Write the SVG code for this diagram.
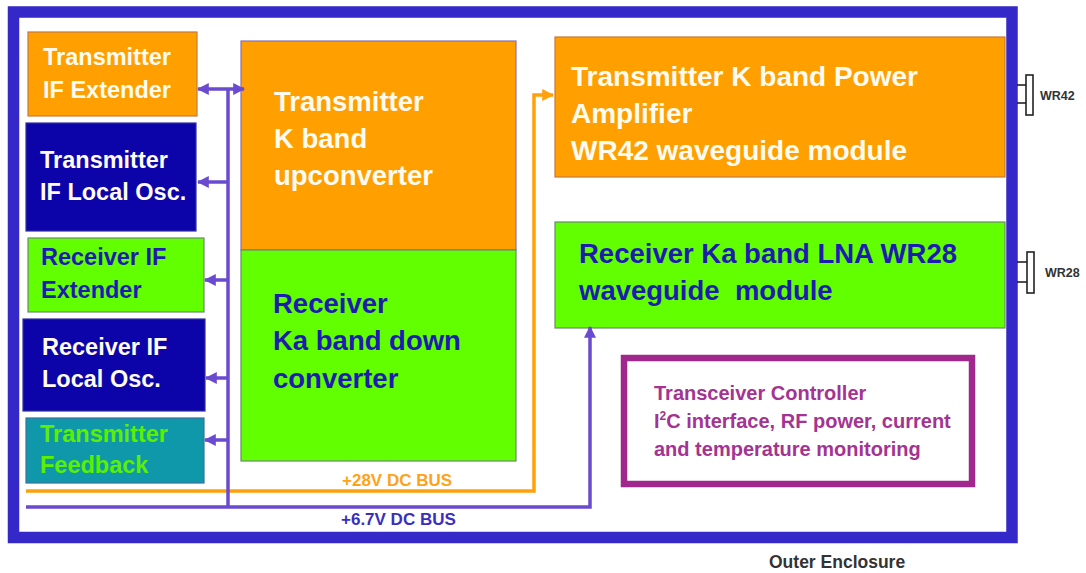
<svg xmlns="http://www.w3.org/2000/svg" width="1086" height="573" viewBox="0 0 1086 573">
<style>
text{font-family:"Liberation Sans",Arial,sans-serif;font-weight:bold}
.or{fill:#ffa000;stroke:#c8783a;stroke-width:1.2}
.gr{fill:#62ff00;stroke:#6a8a6a;stroke-width:1.2}
.db{fill:#0c04a8;stroke:#3030a0;stroke-width:1.2}
.tl{fill:#0f98aa;stroke:#3a6fa0;stroke-width:1.2}
.tw{fill:#fffbf0}
.tb{fill:#1c1cb0}
.tg{fill:#5cf000}
.s23{font-size:23.5px}
.s27{font-size:27.5px}
.ct{font-size:20px;fill:#a43392}
.bus{fill:none;stroke:#6a4bd0;stroke-width:3.5}
.obus{fill:none;stroke:#ffa10a;stroke-width:3.5}
.wr{fill:#fff;stroke:#222;stroke-width:1.6}
.stub{stroke:#222;stroke-width:1.6}
</style>
<defs>
<marker id="ap" viewBox="0 0 10 10" refX="9" refY="5" markerUnits="userSpaceOnUse" markerWidth="12" markerHeight="13" orient="auto-start-reverse"><path d="M0,0 L10,5 L0,10 z" fill="#6a4bd0"/></marker>
<marker id="ao" viewBox="0 0 10 10" refX="9" refY="5" markerUnits="userSpaceOnUse" markerWidth="12" markerHeight="13" orient="auto"><path d="M0,0 L10,5 L0,10 z" fill="#ffa10a"/></marker>
</defs>
<rect width="1086" height="573" fill="#fff"/>
<g id="enclosure">
<rect x="13.5" y="12" width="998.5" height="525.5" fill="none" stroke="#3429c8" stroke-width="11.5"/>
<text x="769" y="568" font-size="17.5" fill="#333">Outer Enclosure</text>
</g>
<g id="tx-if-extender">
<rect class="or" x="28" y="32" width="169" height="84"/>
<text class="tw s23" x="43" y="65">Transmitter</text>
<text class="tw s23" x="43" y="98">IF Extender</text>
</g>
<g id="tx-if-lo">
<rect class="db" x="26" y="123" width="170" height="108"/>
<text class="tw s23" x="40" y="168">Transmitter</text>
<text class="tw s23" x="40" y="200">IF Local Osc.</text>
</g>
<g id="rx-if-extender">
<rect class="gr" x="28" y="238" width="176" height="74"/>
<text class="tb s23" x="41" y="265">Receiver IF</text>
<text class="tb s23" x="41" y="298">Extender</text>
</g>
<g id="rx-if-lo">
<rect class="db" x="23" y="319" width="182" height="92"/>
<text class="tw s23" x="42" y="355">Receiver IF</text>
<text class="tw s23" x="42" y="387">Local Osc.</text>
</g>
<g id="tx-feedback">
<rect class="tl" x="26" y="418" width="178" height="65"/>
<text class="tg s23" x="40" y="442">Transmitter</text>
<text class="tg s23" x="40" y="473">Feedback</text>
</g>
<g id="tx-upconverter">
<rect class="or" x="241" y="41" width="275" height="209" style="stroke:#8a70b8"/>
<text class="tw s27" x="274" y="111">Transmitter</text>
<text class="tw s27" x="274" y="148">K band</text>
<text class="tw s27" x="274" y="185">upconverter</text>
</g>
<g id="rx-downconverter">
<rect class="gr" x="241" y="250" width="275" height="211"/>
<text class="tb s27" x="273" y="313">Receiver</text>
<text class="tb s27" x="273" y="350">Ka band down</text>
<text class="tb s27" x="273" y="388">converter</text>
</g>
<g id="tx-pa">
<rect class="or" x="555" y="37" width="450" height="140"/>
<text class="tw" font-size="28" x="571" y="86">Transmitter K band Power</text>
<text class="tw" font-size="28" x="571" y="123">Amplifier</text>
<text class="tw" font-size="28" x="571" y="160">WR42 waveguide module</text>
</g>
<g id="rx-lna">
<rect class="gr" x="555" y="222" width="450" height="106"/>
<text class="tb s27" x="579" y="263">Receiver Ka band LNA WR28</text>
<text class="tb s27" x="579" y="300" xml:space="preserve">waveguide  module</text>
</g>
<g id="controller">
<rect x="624" y="358" width="348" height="126" fill="#fff" stroke="#a0288c" stroke-width="6.5"/>
<text class="ct" x="654" y="400">Transceiver Controller</text>
<text class="ct" x="654" y="428">I<tspan font-size="12" dy="-8">2</tspan><tspan dy="8">C interface, RF power, current</tspan></text>
<text class="ct" x="654" y="456">and temperature monitoring</text>
</g>
<g id="wr42">
<line class="stub" x1="1017" y1="85" x2="1026" y2="85"/>
<line class="stub" x1="1017" y1="103" x2="1026" y2="103"/>
<rect class="wr" x="1026" y="75" width="7" height="40"/>
<text x="1040" y="100" font-size="12.5" fill="#333">WR42</text>
</g>
<g id="wr28">
<line class="stub" x1="1017" y1="262" x2="1027" y2="262"/>
<line class="stub" x1="1017" y1="282" x2="1027" y2="282"/>
<rect class="wr" x="1027" y="252" width="7" height="41"/>
<text x="1045" y="277" font-size="12.5" fill="#333">WR28</text>
</g>
<g id="connectors">
<path class="obus" d="M26,491 H534 V95 H553" marker-end="url(#ao)"/>
<text x="342" y="486" font-size="17" fill="#ffa21a">+28V DC BUS</text>
<path class="bus" d="M26,507 H590 V327" marker-end="url(#ap)"/>
<text x="341" y="525" font-size="17" fill="#3a2ec0">+6.7V DC BUS</text>
<path class="bus" d="M228,507 V89"/>
<path class="bus" d="M198,89 H244" marker-start="url(#ap)" marker-end="url(#ap)"/>
<path class="bus" d="M228,182 H198" marker-end="url(#ap)"/>
<path class="bus" d="M228,280 H205" marker-end="url(#ap)"/>
<path class="bus" d="M228,378 H206" marker-end="url(#ap)"/>
<path class="bus" d="M228,440 H205" marker-end="url(#ap)"/>
</g>
</svg>
